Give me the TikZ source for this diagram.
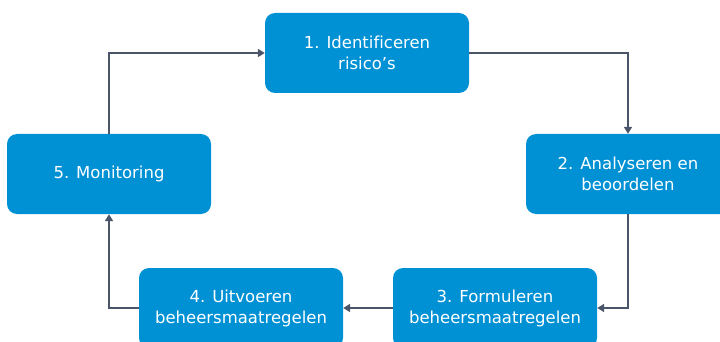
\documentclass[tikz,border=0pt]{standalone}
\usepackage{fontspec}
\setmainfont[Ligatures=CommonOff]{DejaVu Sans}
\usetikzlibrary{arrows.meta}
\definecolor{boxblue}{HTML}{0091D5}
\definecolor{linegray}{HTML}{4A5569}
\tikzset{
  stepbox/.style={fill=boxblue, draw=none, rounded corners=10pt, minimum width=204pt, minimum height=80pt,
    text=white, align=center, inner sep=0pt, font=\fontsize{16.5}{21}\selectfont},
  conn/.style={draw=linegray, line width=2.2pt, -{Triangle[length=7pt,width=8pt]}}
}
\begin{document}
\begin{tikzpicture}[x=1pt,y=-1pt]
\useasboundingbox (0,0) rectangle (720,342);
\clip (0,0) rectangle (720,342);
\node[stepbox] (b1) at (367,53) {1. Identificeren\\risico’s};
\node[stepbox] (b2) at (628,174) {2. Analyseren en\\beoordelen};
\node[stepbox] (b3) at (495,308) {3. Formuleren\\beheersmaatregelen};
\node[stepbox] (b4) at (241,308) {4. Uitvoeren\\beheersmaatregelen};
\node[stepbox] (b5) at (109,174) {5. Monitoring};
\draw[conn] (b1.east) -| (b2.north);
\draw[conn] (b2.south) |- (b3.east);
\draw[conn] (b3.west) -- (b4.east);
\draw[conn] (b4.west) -| (b5.south);
\draw[conn] (b5.north) |- (b1.west);
\end{tikzpicture}
\end{document}
